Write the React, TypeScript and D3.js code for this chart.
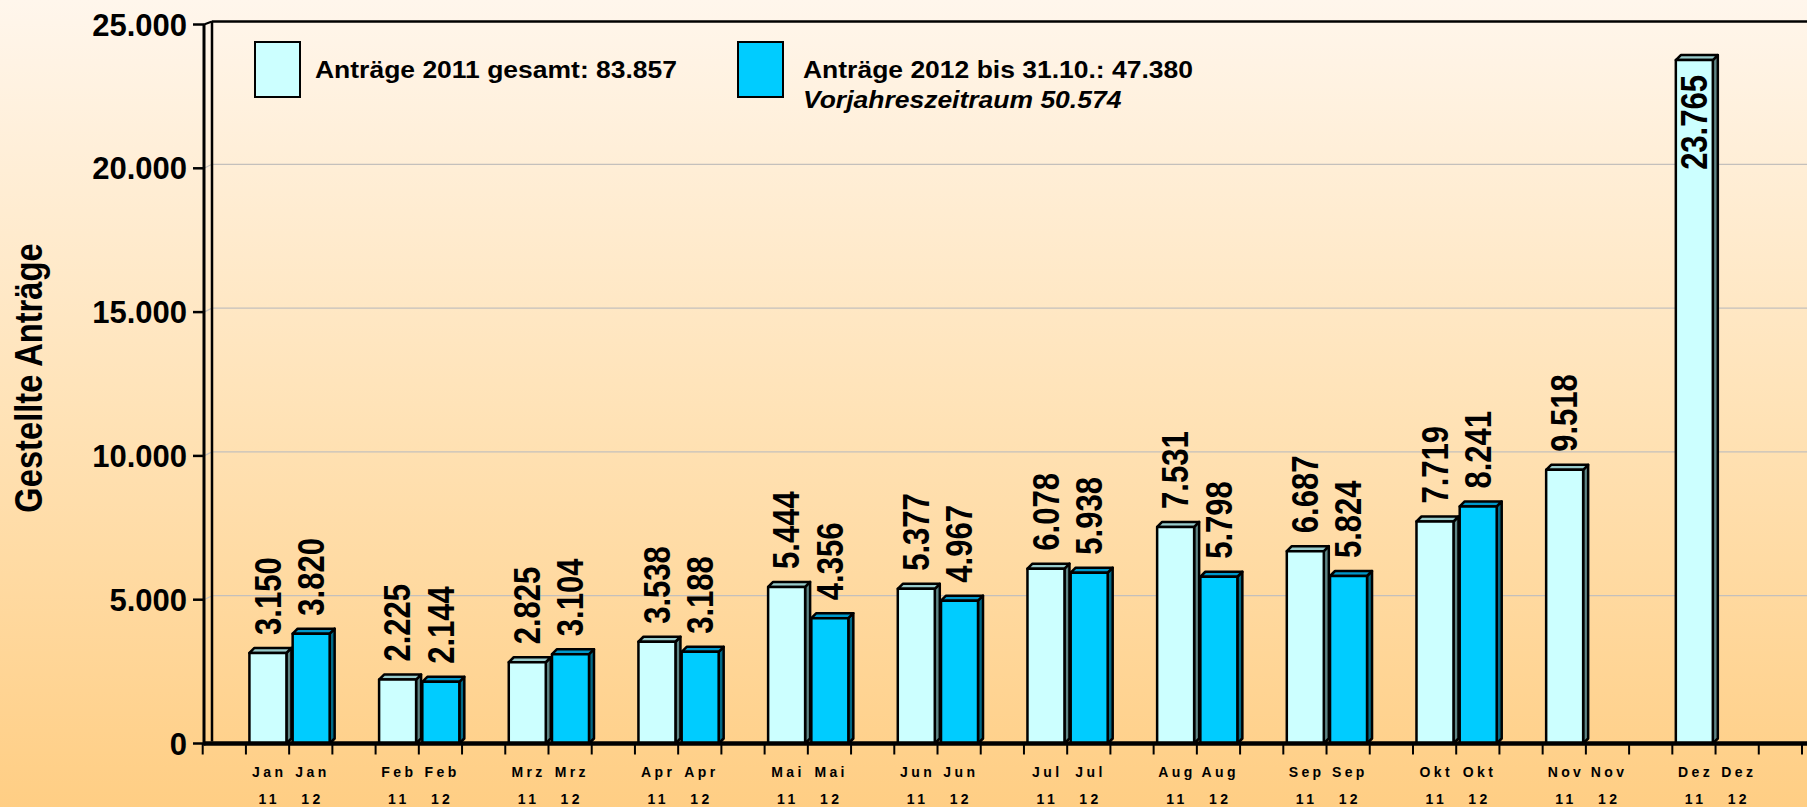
import React from "react";
import * as d3 from "d3";

const months = ["Jan", "Feb", "Mrz", "Apr", "Mai", "Jun", "Jul", "Aug", "Sep", "Okt", "Nov", "Dez"];
const values2011 = [3150, 2225, 2825, 3538, 5444, 5377, 6078, 7531, 6687, 7719, 9518, 23765];
const values2012: (number | null)[] = [3820, 2144, 3104, 3188, 4356, 4967, 5938, 5798, 5824, 8241, null, null];
const yearLabels = ["11", "12"];
const yTicks = [0, 5000, 10000, 15000, 20000, 25000];
const legend1 = "Anträge 2011 gesamt: 83.857";
const legend2 = "Anträge 2012 bis 31.10.: 47.380";
const legend2b = "Vorjahreszeitraum 50.574";
const yTitle = "Gestellte Anträge";

const W = 1807;
const H = 807;
const FONT = "'Liberation Sans', Arial, Helvetica, sans-serif";

const fmt = d3
  .formatLocale({ decimal: ",", thousands: ".", grouping: [3], currency: ["", "€"] })
  .format(",d");

const series = [
  { values: values2011 as (number | null)[], front: "#CCFFFF", top: "#99CCCC", side: "#5E8686", offset: 1 },
  { values: values2012, front: "#00CCFF", top: "#0099CC", side: "#006A88", offset: 2 },
];

export default function App() {
  const y = d3.scaleLinear().domain([0, 25000]).range([743.5, 24.5]);
  const nSlots = 37;
  const x = d3
    .scaleBand<number>()
    .domain(d3.range(nSlots))
    .range([202.7, 1802])
    .padding(0);
  const bw = x.bandwidth();
  const barW = 37;
  const barOff = 3.5;
  const d = 5;
  const y0 = y(0);
  const axisX = 204;
  const wallX = 212;
  const gridOff = 4;
  const labelFont = 36.5;
  const labelCap = 0.716 * labelFont;
  const labelScale = 0.85;
  const labelGap = 18;
  const plotTop = y(25000) - 3;

  const bars: any[] = [];
  const labels: any[] = [];
  series.forEach((s, si) => {
    s.values.forEach((v, m) => {
      if (v == null) return;
      const slot = m * 3 + s.offset;
      const bx = (x(slot) as number) + barOff;
      const yt = y(v);
      const pts = (arr: number[][]) => arr.map((p) => p.join(",")).join(" ");
      bars.push(
        <g key={`b${si}-${m}`} stroke="#000" strokeWidth={2.5} strokeLinejoin="round">
          <polygon
            points={pts([
              [bx + barW, y0],
              [bx + barW, yt],
              [bx + barW + d, yt - d],
              [bx + barW + d, y0 - d],
            ])}
            fill={s.side}
          />
          <polygon
            points={pts([
              [bx, yt],
              [bx + d, yt - d],
              [bx + barW + d, yt - d],
              [bx + barW, yt],
            ])}
            fill={s.top}
          />
          <rect x={bx} y={yt} width={barW} height={y0 - yt} fill={s.front} />
        </g>
      );
      const cx = (x(slot) as number) + bw / 2;
      const text = fmt(v);
      const approxLen = (text.length - 1) * 0.556 * labelFont * labelScale + 0.278 * labelFont * labelScale;
      const inside = yt - labelGap - approxLen < plotTop;
      labels.push(
        <text
          key={`l${si}-${m}`}
          transform={
            inside
              ? `translate(${cx + labelCap / 2},${yt + 15}) rotate(-90) scale(${labelScale},1)`
              : `translate(${cx + labelCap / 2},${yt - labelGap}) rotate(-90) scale(${labelScale},1)`
          }
          textAnchor={inside ? "end" : "start"}
          fontFamily={FONT}
          fontWeight="bold"
          fontSize={labelFont}
          fill="#000"
        >
          {text}
        </text>
      );
    });
  });

  const xLabels: any[] = [];
  months.forEach((mo, m) => {
    yearLabels.forEach((yl, k) => {
      const slot = m * 3 + 1 + k;
      const cx = (x(slot) as number) + bw / 2;
      xLabels.push(
        <g key={`x${m}-${k}`} fontFamily={FONT} fontWeight="bold" fontSize={14} letterSpacing={3.4} textAnchor="middle">
          <text x={cx + 1.7} y={777}>{mo}</text>
          <text x={cx + 1.7} y={804}>{yl}</text>
        </g>
      );
    });
  });

  return (
    <svg
      width={W}
      height={H}
      viewBox={`0 0 ${W} ${H}`}
      style={{ position: "absolute", left: 0, top: 0, display: "block" }}
    >
      <defs>
        <linearGradient id="bg" x1="0" y1="0" x2="0" y2="1">
          <stop offset="0" stopColor="#FFF6EC" />
          <stop offset="0.5" stopColor="#FFE3B8" />
          <stop offset="1" stopColor="#FFCE84" />
        </linearGradient>
      </defs>
      <rect x={0} y={0} width={W} height={H} fill="url(#bg)" />

      {/* gridlines */}
      {yTicks
        .filter((t) => t > 0 && t < 25000)
        .map((t) => (
          <g key={`g${t}`} stroke="#C4C0BC" strokeWidth={1.2} fill="none">
            <line x1={axisX} y1={y(t)} x2={wallX} y2={y(t) - gridOff} />
            <line x1={wallX} y1={y(t) - gridOff} x2={W} y2={y(t) - gridOff} />
          </g>
        ))}

      {/* back wall & top border */}
      <line x1={wallX} y1={plotTop} x2={wallX} y2={y0 - 2} stroke="#000" strokeWidth={2.5} />
      <line x1={wallX} y1={plotTop} x2={W} y2={plotTop} stroke="#000" strokeWidth={2.5} />
      <line x1={axisX} y1={y(25000)} x2={wallX} y2={plotTop} stroke="#000" strokeWidth={2} />

      {/* bars */}
      {bars}

      {/* floor */}
      <line x1={axisX} y1={y0} x2={W} y2={y0} stroke="#000" strokeWidth={4.5} />

      {/* front y axis */}
      <line x1={axisX} y1={y(25000)} x2={axisX} y2={y0 + 2} stroke="#000" strokeWidth={3} />
      {yTicks.map((t) => (
        <g key={`yt${t}`}>
          <line x1={193} y1={y(t)} x2={axisX} y2={y(t)} stroke="#000" strokeWidth={2.5} />
          <text
            x={187}
            y={y(t) + 11}
            textAnchor="end"
            fontFamily={FONT}
            fontWeight="bold"
            fontSize={31}
            fill="#000"
          >
            {fmt(t)}
          </text>
        </g>
      ))}

      {/* x ticks */}
      {d3.range(nSlots + 1).map((i) => {
        const xx = i < nSlots ? (x(i) as number) : (x(nSlots - 1) as number) + bw;
        return <line key={`xt${i}`} x1={xx} y1={y0} x2={xx} y2={y0 + 11} stroke="#000" strokeWidth={2} />;
      })}
      {xLabels}

      {/* data labels */}
      {labels}

      {/* y title */}
      <text
        transform={`translate(42,378) rotate(-90) scale(0.86,1)`}
        textAnchor="middle"
        fontFamily={FONT}
        fontWeight="bold"
        fontSize={38}
        fill="#000"
      >
        {yTitle}
      </text>

      {/* legend */}
      <rect x={255} y={42} width={45} height={55} fill={series[0].front} stroke="#000" strokeWidth={2} />
      <text transform="translate(315,78) scale(1,0.9)" fontFamily={FONT} fontWeight="bold" fontSize={26.5} fill="#000">
        {legend1}
      </text>
      <rect x={738} y={42} width={45} height={55} fill={series[1].front} stroke="#000" strokeWidth={2} />
      <text transform="translate(803,78) scale(1,0.9)" fontFamily={FONT} fontWeight="bold" fontSize={26.5} fill="#000">
        {legend2}
      </text>
      <text
        transform="translate(803,108) scale(1,0.9)"
        fontFamily={FONT}
        fontWeight="bold"
        fontStyle="italic"
        fontSize={26.5}
        fill="#000"
      >
        {legend2b}
      </text>
    </svg>
  );
}
